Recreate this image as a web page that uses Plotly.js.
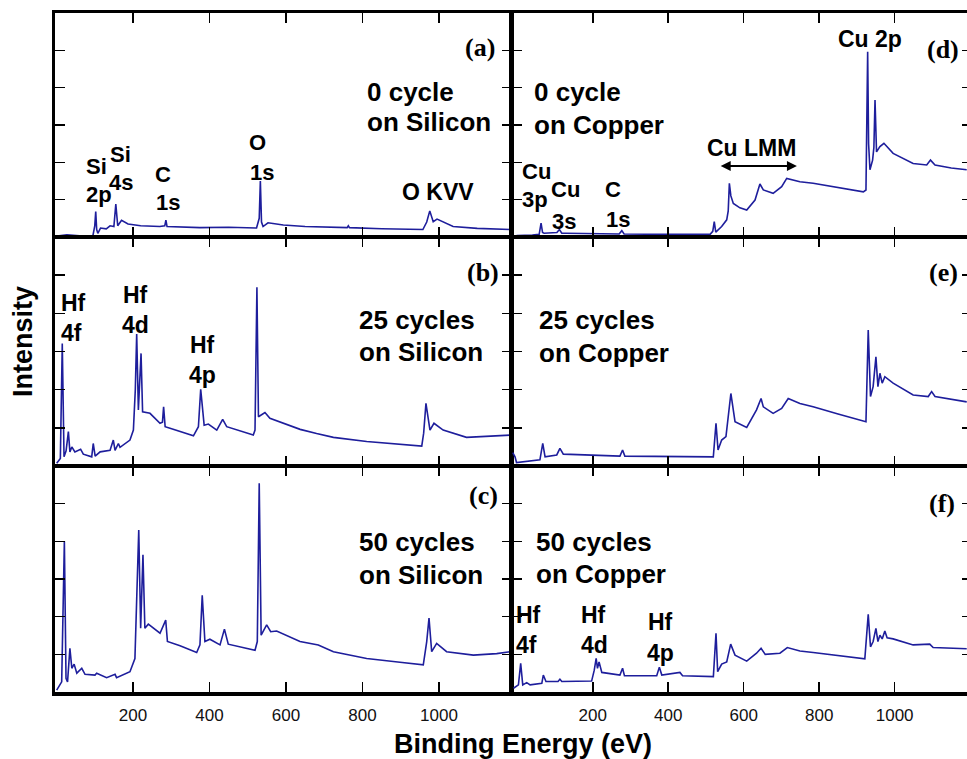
<!DOCTYPE html>
<html>
<head>
<meta charset="utf-8">
<script src="https://cdn.plot.ly/plotly-3.0.1.min.js"></script>
<style>
html,body{margin:0;padding:0;overflow:hidden;background:#fff;}
#chart{width:975px;height:759px;}
</style>
</head>
<body>
<div id="chart"></div>
<script>
// ---------- data (binding energy in eV, intensity in arbitrary units, panel height = 6) ----------
const tickEnergies = [200, 400, 600, 800, 1000];
const tickLabels = ["200", "400", "600", "800", "1000"];

// (a) 0 cycle on Silicon
const aE = [-4,27,60,95,100,102.5,105,108,115,130,140,150,155,160,170,187,220,270,283,286,289,375,450,523,530,533,536,540,553,593,650,724,760,763,766,850,958,968,976,985,995,1037,1100,1186];
const aI = [0.02,0.06,0.03,0.03,0.3,0.68,0.2,0.1,0.24,0.22,0.3,0.28,0.88,0.3,0.45,0.35,0.3,0.28,0.3,0.45,0.28,0.25,0.26,0.24,0.5,1.5,0.4,0.28,0.38,0.32,0.28,0.25,0.25,0.3,0.25,0.22,0.2,0.4,0.7,0.41,0.48,0.28,0.23,0.2];

// (b) 25 cycles on Silicon
const bE = [0.4,10,15,19.6,25,31,35,40,48,63,70,92,96,101,114,140,148.5,153,161.7,166,192,201,206,209.6,214,218,221,225,244.4,270.6,277,280,284,305,358,371,377,386,397,419,434.5,445,514.5,519,524,528,545,558,584,637,680,724,811,880,955,960,966,976.5,987,1011,1072,1186];
const bI = [0.07,0.2,3.21,0.24,0.4,0.9,0.37,0.5,0.37,0.44,0.31,0.24,0.59,0.26,0.37,0.41,0.68,0.41,0.59,0.49,0.68,0.94,2.0,3.46,1.47,2.5,2.95,1.42,1.38,1.12,1.15,1.55,1.03,0.96,0.79,1.03,2.01,1.07,1.1,0.94,1.22,1.03,0.81,0.94,4.68,1.29,1.4,1.25,1.16,0.96,0.85,0.75,0.64,0.58,0.52,0.86,1.64,0.94,1.12,0.94,0.75,0.81];

// (c) 50 cycles on Silicon
const cE = [0.4,13.5,20.5,24.8,28.8,35,40,46,53,66,74.5,100.6,105,131,153,157,192,205,215,220,226,231,240,270.6,285.5,290,323,366.5,375,381,388,401,427.5,439,449,519,525,530,535,549.5,560,575.6,636.6,684.5,724,811,898,959,968,974,981,994,1020,1090,1151,1186];
const cI = [0.05,0.27,4.0,0.36,0.27,1.16,0.63,0.74,0.5,0.63,0.47,0.45,0.5,0.38,0.47,0.38,0.54,0.89,4.3,1.69,3.64,1.69,1.8,1.56,1.91,1.34,1.23,1.05,1.25,2.57,1.34,1.4,1.25,1.67,1.27,1.11,1.34,5.54,1.51,1.78,1.6,1.62,1.34,1.25,1.07,0.89,0.79,0.72,1.34,1.96,1.07,1.29,1.07,0.98,1.02,1.07];

// (d) 0 cycle on Copper
const dE = [-10,0,40,58,63,67,71,105,111.6,118,128,270,277,283,400,511,518,522,526,541.6,555,559,562,566,572.5,590,608,630,643,652,678,700.6,714,749,784,850,917,924,926,928.5,931,934.6,941.6,945,948,950,952,961,971.6,996,1049,1085,1095,1107,1150,1191];
const dI = [0.02,0.04,0.05,0.07,0.37,0.12,0.1,0.12,0.2,0.1,0.1,0.08,0.17,0.08,0.07,0.07,0.15,0.41,0.13,0.28,0.46,0.7,1.44,1.1,0.9,0.78,0.72,0.99,1.42,1.26,1.17,1.35,1.57,1.48,1.44,1.33,1.21,1.26,3.0,4.96,2.5,1.8,2.06,2.4,3.67,2.6,2.28,2.42,2.51,2.24,1.97,1.93,2.06,1.93,1.85,1.8];

// (e) 25 cycles on Copper
const eE = [-12,-6,-2,60,67.5,73.6,104.6,113,122,272,279,285,519.5,526.6,532,541.6,553,566,577,608,634,646,652,678,700.6,718,749,784,850,924,930,936,943,950.4,955.7,961,967,974,996,1049,1089,1098,1107,1191];
const eI = [0.35,0.24,0.09,0.16,0.59,0.24,0.29,0.46,0.31,0.26,0.42,0.26,0.24,1.12,0.42,0.68,0.77,1.9,1.16,1.01,1.47,1.77,1.55,1.38,1.51,1.77,1.64,1.55,1.36,1.16,3.56,1.82,2.08,2.86,2.08,2.43,2.17,2.34,2.17,1.86,1.82,1.95,1.82,1.68];

// (f) 50 cycles on Copper
const fE = [-10,3,9,14.5,25,34,65,69,76,108,113,118,197,204,209,212.5,216.7,224,272,279,284,369.5,376.5,383,431,438,519.6,526.6,531,541.6,555,565.5,577,608,634,646,657,696,715.6,749,784,850,921,930,936,943,950.4,955.7,961,967,974,980,996,1049,1093,1102,1191];
const fI = [0.1,0.19,0.76,0.19,0.25,0.19,0.23,0.45,0.28,0.28,0.34,0.28,0.29,0.58,0.89,0.63,0.8,0.52,0.45,0.63,0.43,0.43,0.66,0.45,0.52,0.43,0.41,1.56,0.54,0.74,0.8,1.27,0.98,0.82,1.03,1.16,1.0,1.03,1.18,1.09,1.05,0.96,0.88,2.06,1.2,1.34,1.69,1.34,1.51,1.41,1.62,1.44,1.41,1.25,1.27,1.18,1.15];

// ---------- layout ----------
const W = 975, H = 759;
const px = x => x / W;
const py = y => 1 - y / H;
const LINE = '#1e1e9c';
const SANS = 'Liberation Sans, Arial, sans-serif';
const SERIF = 'Liberation Serif, Times New Roman, serif';

const colX = [[px(55), px(512)], [px(512), px(972)]];
const rowY = [[py(237), py(13)], [py(466), py(237)], [py(692), py(466)]];
const xRanges = [[-4, 1191], [-14, 1205]];

const series = [[aE, aI], [bE, bI], [cE, cI], [dE, dI], [eE, eI], [fE, fI]];
const traces = series.map((s, i) => ({
  x: s[0], y: s[1], type: 'scatter', mode: 'lines',
  xaxis: 'x' + (i + 1), yaxis: 'y' + (i + 1),
  line: {color: LINE, width: 1.6}, hoverinfo: 'skip'
}));

const layout = {
  width: W, height: H,
  margin: {l: 0, r: 0, t: 0, b: 0},
  paper_bgcolor: '#fff', plot_bgcolor: '#fff',
  showlegend: false,
  annotations: [],
  shapes: [{
    type: 'rect', xref: 'paper', yref: 'paper',
    x0: px(53), x1: px(976), y0: py(695), y1: py(11),
    line: {color: '#000', width: 2}, layer: 'above'
  }]
};

for (let i = 0; i < 6; i++) {
  const col = Math.floor(i / 3), row = i % 3;
  const n = i + 1;
  layout['xaxis' + n] = {
    domain: colX[col], range: xRanges[col], anchor: 'y' + n,
    tickvals: tickEnergies, ticktext: tickLabels,
    ticks: 'inside', ticklen: 10, tickwidth: 1.5, tickcolor: '#000',
    showline: true, linecolor: '#000', linewidth: 2, mirror: 'ticks',
    showgrid: false, zeroline: false,
    showticklabels: row === 2, ticklabelstandoff: 7,
    tickfont: {family: SANS, size: 17, color: '#111'}
  };
  layout['yaxis' + n] = {
    domain: rowY[row], range: [0, 6], anchor: 'x' + n,
    tickvals: [1, 2, 3, 4, 5],
    ticks: 'inside', ticklen: 10, tickwidth: 1.5, tickcolor: '#000',
    showline: true, linecolor: '#000', linewidth: col === 0 ? 2 : 3, mirror: 'ticks',
    showgrid: false, zeroline: false, showticklabels: false
  };
}

function lbl(text, x, y, size, xanchor, family) {
  layout.annotations.push({
    text: text, xref: 'paper', yref: 'paper', x: px(x), y: py(y),
    xanchor: xanchor || 'left', yanchor: 'middle', showarrow: false,
    font: {family: family || SANS, size: size, color: '#000', weight: 'bold'}
  });
}

// panel letters
lbl('(a)', 497, 48, 26, 'right', SERIF);
lbl('(b)', 501, 273, 26, 'right', SERIF);
lbl('(c)', 500, 495, 26, 'right', SERIF);
lbl('(d)', 961, 50, 26, 'right', SERIF);
lbl('(e)', 960, 272, 26, 'right', SERIF);
lbl('(f)', 957, 503, 26, 'right', SERIF);

// sample descriptions
const DS = 26;
lbl('0 cycle', 365, 92, DS); lbl('on Silicon', 365, 122, DS);
lbl('25 cycles', 357, 320, DS); lbl('on Silicon', 357, 352, DS);
lbl('50 cycles', 357, 542, DS); lbl('on Silicon', 357, 575, DS);
lbl('0 cycle', 532, 92, DS); lbl('on Copper', 532, 125, DS);
lbl('25 cycles', 537, 320, DS); lbl('on Copper', 537, 353, DS);
lbl('50 cycles', 534, 542, DS); lbl('on Copper', 534, 574, DS);

// peak labels (a)
const PS = 22;
lbl('Si', 84, 166, PS); lbl('2p', 84, 194, PS);
lbl('Si', 108, 155, PS); lbl('4s', 107, 183, PS);
lbl('C', 163, 175, PS, 'center'); lbl('1s', 168, 203, PS, 'center');
lbl('O', 257, 143, PS, 'center'); lbl('1s', 262, 172, PS, 'center');
lbl('O KVV', 438, 192, 23, 'center');
// peak labels (d)
lbl('Cu 2p', 870, 39, 23, 'center');
lbl('Cu LMM', 751, 148, 23, 'center');
lbl('Cu', 520, 171, PS); lbl('3p', 520, 200, PS);
lbl('Cu', 549, 190, PS); lbl('3s', 550, 221, PS);
lbl('C', 613, 189, PS, 'center'); lbl('1s', 618, 220, PS, 'center');
// peak labels (b)
const HS = 23;
lbl('Hf', 59, 303, HS); lbl('4f', 59, 333, HS);
lbl('Hf', 135, 295, HS, 'center'); lbl('4d', 135, 325, HS, 'center');
lbl('Hf', 202, 345, HS, 'center'); lbl('4p', 202, 375, HS, 'center');
// peak labels (f)
lbl('Hf', 514, 615, HS); lbl('4f', 514, 645, HS);
lbl('Hf', 593, 615, HS, 'center'); lbl('4d', 594, 645, HS, 'center');
lbl('Hf', 660, 622, HS, 'center'); lbl('4p', 660, 653, HS, 'center');

// Cu LMM range arrow
layout.annotations.push({
  xref: 'x4', yref: 'paper', x: 741, y: py(166),
  axref: 'x4', ayref: 'pixel', ax: 535, ay: 0,
  text: '', showarrow: true, arrowside: 'end+start',
  arrowhead: 2, arrowsize: 1, arrowwidth: 2, arrowcolor: '#000'
});

// axis titles
lbl('Binding Energy (eV)', 523, 744, 27, 'center');
layout.annotations.push({
  text: 'Intensity', xref: 'paper', yref: 'paper', x: px(23), y: py(342),
  xanchor: 'center', yanchor: 'middle', textangle: -90, showarrow: false,
  font: {family: SANS, size: 27, color: '#000', weight: 'bold'}
});

Plotly.newPlot('chart', traces, layout, {staticPlot: true, displayModeBar: false});
</script>
</body>
</html>
